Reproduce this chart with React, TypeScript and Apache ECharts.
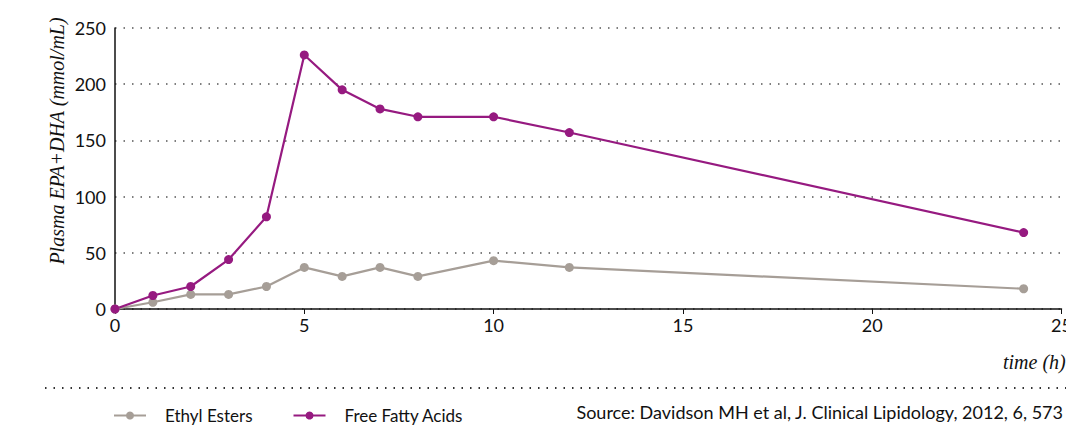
import React, { useEffect, useRef } from "react";
import * as echarts from "echarts";

const hours = [0, 1, 2, 3, 4, 5, 6, 7, 8, 10, 12, 24];
const ethylEsters = [0, 6, 13, 13, 20, 37, 29, 37, 29, 43, 37, 18];
const freeFattyAcids = [0, 12, 20, 44, 82, 226, 195, 178, 171, 171, 157, 68];
const xTicks = [0, 5, 10, 15, 20, 25];
const yTicks = [0, 50, 100, 150, 200, 250];
const seriesNames = ["Ethyl Esters", "Free Fatty Acids"];
const yTitle = "Plasma EPA+DHA (mmol/mL)";
const xTitle = "time (h)";
const sourceText = "Source: Davidson MH et al, J. Clinical Lipidology, 2012, 6, 573";

const PURPLE = "#961a80";
const GRAY = "#a69e97";
const FONT = "Lato, 'Noto Sans', sans-serif";
const SERIF = "'Liberation Serif', 'DejaVu Serif', serif";

export default function App() {
  const ref = useRef<HTMLDivElement>(null);
  useEffect(() => {
    if (!ref.current) return;
    const chart = echarts.init(ref.current, undefined, { renderer: "svg" });
    const pair = (ys: number[]) => hours.map((h, i) => [h, ys[i]]);
    chart.setOption({
      animation: false,
      backgroundColor: "#fff",
      grid: {
        left: 115,
        right: 4.5,
        top: 28,
        bottom: 117,
        containLabel: false,
        outerBoundsMode: "none",
      },
      xAxis: {
        type: "value",
        min: xTicks[0],
        max: xTicks[xTicks.length - 1],
        interval: 5,
        axisLine: { show: true, lineStyle: { color: "#111", width: 1.5 } },
        axisTick: { show: true, length: 5, lineStyle: { color: "#111" } },
        axisLabel: { color: "#111", fontSize: 18, fontFamily: FONT, margin: 7 },
        splitLine: { show: false },
      },
      yAxis: {
        type: "value",
        min: yTicks[0],
        max: yTicks[yTicks.length - 1],
        interval: 50,
        axisLine: { show: true, lineStyle: { color: "#111", width: 1.5 } },
        axisTick: { show: false },
        axisLabel: { color: "#111", fontSize: 18, fontFamily: FONT, margin: 9 },
        splitLine: { show: true, lineStyle: { color: "#555", type: [1.5, 7], width: 1.5 } },
      },
      legend: {
        left: 108,
        top: 402,
        itemWidth: 32,
        itemHeight: 10,
        itemGap: 40,
        data: seriesNames,
        textStyle: { fontSize: 17, fontFamily: FONT, color: "#111", padding: [0, 0, 0, 14] },
      },
      series: [
        {
          name: seriesNames[0],
          type: "line",
          data: pair(ethylEsters),
          color: GRAY,
          symbol: "circle",
          symbolSize: 9,
          lineStyle: { width: 2.2 },
        },
        {
          name: seriesNames[1],
          type: "line",
          data: pair(freeFattyAcids),
          color: PURPLE,
          symbol: "circle",
          symbolSize: 9,
          lineStyle: { width: 2.2 },
        },
      ],
      graphic: [
        {
          type: "text",
          x: 57,
          y: 141,
          rotation: Math.PI / 2,
          style: {
            text: yTitle,
            fontFamily: SERIF,
            fontStyle: "italic",
            fontSize: 20,
            fill: "#111",
            align: "center",
            verticalAlign: "middle",
          },
        },
        {
          type: "text",
          x: 1003,
          y: 362,
          style: {
            text: xTitle,
            fontFamily: SERIF,
            fontStyle: "italic",
            fontSize: 20,
            fill: "#111",
            align: "left",
            verticalAlign: "middle",
          },
        },
        {
          type: "line",
          shape: { x1: 45, y1: 388, x2: 1066, y2: 388 },
          style: { stroke: "#333", lineWidth: 2, lineDash: [1.5, 7] },
        },
        {
          type: "text",
          x: 1063,
          y: 412,
          style: {
            text: sourceText,
            fontFamily: FONT,
            fontSize: 18,
            fill: "#111",
            align: "right",
            verticalAlign: "middle",
          },
        },
      ],
    });
    return () => chart.dispose();
  }, []);
  return <div ref={ref} style={{ width: 1066, height: 426, position: "absolute", left: 0, top: 0 }} />;
}
